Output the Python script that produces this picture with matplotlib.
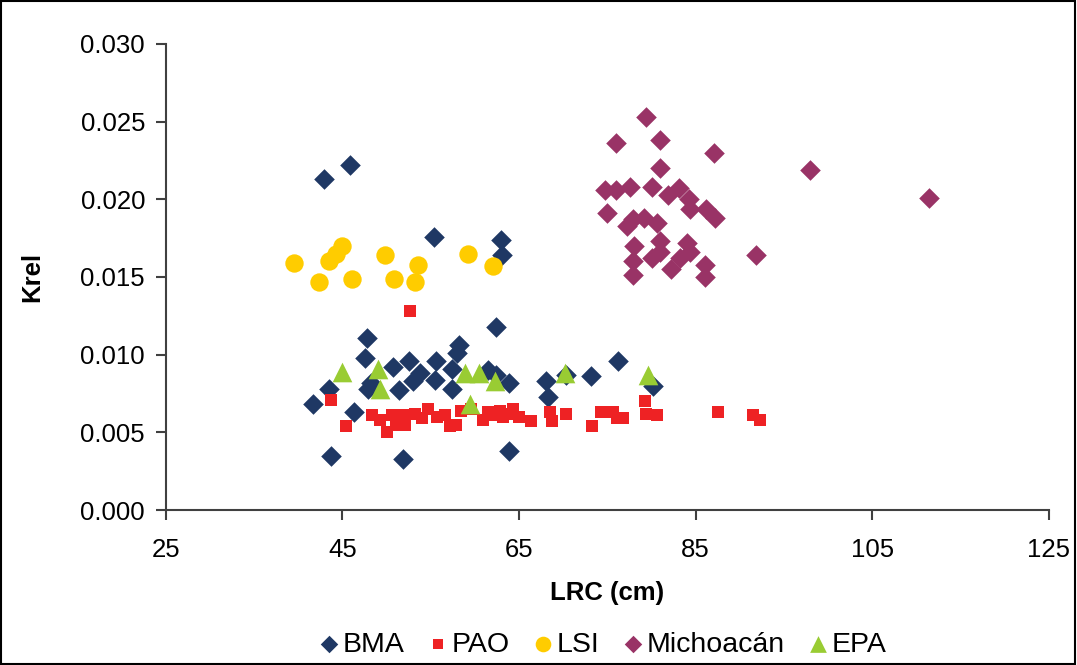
import matplotlib
matplotlib.use("Agg")
import matplotlib.pyplot as plt
from matplotlib.patches import Rectangle

plt.rcParams['font.family'] = ['Liberation Sans', 'DejaVu Sans']

# data
bma_x = [42.9, 45.9, 55.4, 62.9, 63.1, 62.4, 47.8, 47.5, 43.5, 41.7, 46.3, 43.7,
         51.8, 47.9, 48.2, 50.7, 52.5, 53.8, 53.0, 51.4, 55.6, 58.2, 58.0, 57.4,
         55.5, 57.4, 61.5, 62.4, 63.8, 68.1, 68.3, 63.9, 70.3, 73.1, 76.2, 80.2]
bma_y = [0.0213, 0.0222, 0.0176, 0.0174, 0.0164, 0.0118, 0.0111, 0.0098, 0.0078,
         0.0068, 0.0063, 0.0035, 0.0033, 0.0078, 0.0082, 0.0092, 0.0096, 0.0088,
         0.0083, 0.0077, 0.0096, 0.0106, 0.0101, 0.0091, 0.0084, 0.0078, 0.0090,
         0.0087, 0.0082, 0.0083, 0.0073, 0.0038, 0.0087, 0.0086, 0.0096, 0.0080]

pao_x = [43.7, 45.4, 48.3, 49.3, 50.0, 50.6, 51.1, 51.8, 52.1, 52.7, 53.2, 54.0,
         54.7, 55.7, 56.6, 57.2, 57.9, 58.4, 59.6, 60.9, 61.5, 62.3, 62.8, 63.2,
         63.8, 64.3, 65.0, 66.3, 68.5, 68.7, 70.3, 73.3, 74.3, 75.6, 76.1, 76.8,
         79.2, 79.4, 80.6, 87.5, 91.5, 92.3]
pao_y = [0.0071, 0.0054, 0.0061, 0.0058, 0.0050, 0.0061, 0.0055, 0.0061, 0.0055,
         0.0128, 0.0062, 0.0059, 0.0065, 0.0060, 0.0061, 0.0054, 0.0055, 0.0064,
         0.0065, 0.0058, 0.0063, 0.0061, 0.0064, 0.0060, 0.0062, 0.0065, 0.0060,
         0.0057, 0.0063, 0.0057, 0.0062, 0.0054, 0.0063, 0.0063, 0.0059, 0.0059,
         0.0070, 0.0062, 0.0061, 0.0063, 0.0061, 0.0058]

lsi_x = [39.5, 42.3, 43.5, 44.3, 44.9, 46.1, 49.8, 50.8, 53.2, 53.6, 59.2, 62.0]
lsi_y = [0.0159, 0.0147, 0.0160, 0.0165, 0.0170, 0.0149, 0.0164, 0.0149, 0.0147,
         0.0158, 0.0165, 0.0157]

mich_x = [79.4, 76.0, 81.0, 87.1, 81.0, 74.7, 76.0, 77.5, 80.0, 81.9, 83.1, 84.2,
          84.3, 86.2, 87.2, 74.9, 77.2, 77.9, 79.1, 80.6, 78.0, 80.9, 80.9, 84.0,
          84.3, 80.0, 77.9, 82.2, 83.2, 77.9, 86.0, 86.0, 97.9, 111.4, 91.8]
mich_y = [0.0253, 0.0236, 0.0238, 0.0230, 0.0220, 0.0206, 0.0206, 0.0208, 0.0208,
          0.0203, 0.0207, 0.0200, 0.0194, 0.0194, 0.0188, 0.0191, 0.0183, 0.0187,
          0.0188, 0.0185, 0.0170, 0.0173, 0.0166, 0.0172, 0.0166, 0.0162, 0.0160,
          0.0155, 0.0162, 0.0151, 0.0158, 0.0150, 0.0219, 0.0201, 0.0164]

epa_x = [44.9, 49.0, 49.3, 58.9, 60.5, 62.3, 59.4, 70.2, 79.6]
epa_y = [0.0089, 0.0091, 0.0078, 0.0088, 0.0088, 0.0083, 0.0068, 0.0088, 0.0087]

x_ticks = [25, 45, 65, 85, 105, 125]
y_ticks = [0.000, 0.005, 0.010, 0.015, 0.020, 0.025, 0.030]

fig = plt.figure(figsize=(10.77, 6.65), dpi=100)
ax = fig.add_axes([0.154, 0.233, 0.820, 0.701])

ax.scatter(bma_x, bma_y, marker='D', s=110, color='#1F3864', label='BMA', zorder=3, linewidths=0)
ax.scatter(pao_x, pao_y, marker='s', s=72, color='#EE2224', label='PAO', zorder=3, linewidths=0)
ax.scatter(lsi_x, lsi_y, marker='o', s=175, color='#FFCC00', label='LSI', zorder=3, linewidths=0)
ax.scatter(mich_x, mich_y, marker='D', s=110, color='#993366', label='Michoacán', zorder=3, linewidths=0)
ax.scatter(epa_x, epa_y, marker='^', s=200, color='#99CC33', label='EPA', zorder=4, linewidths=0)

ax.set_xlim(25, 125)
ax.set_ylim(0, 0.030)
ax.set_xticks(x_ticks)
ax.set_yticks(y_ticks)
ax.set_yticklabels([f'{v:.3f}' for v in y_ticks])
ax.tick_params(axis='both', labelsize=18.5, direction='out', length=7, width=1.5,
               color='#404040')
ax.tick_params(axis='x', pad=13)
ax.tick_params(axis='y', pad=8)

for side in ['top', 'right']:
    ax.spines[side].set_visible(False)
for side in ['left', 'bottom']:
    ax.spines[side].set_color('#404040')
    ax.spines[side].set_linewidth(1.5)

ax.set_xlabel('LRC (cm)', fontsize=18.5, fontweight='bold', labelpad=14)
ax.set_ylabel('Krel', fontsize=18.5, fontweight='bold', labelpad=26)

ax.legend(loc='upper center', bbox_to_anchor=(0.494, -0.237), ncol=5, frameon=False,
          fontsize=20.5, handlelength=0.8, handletextpad=0.1, columnspacing=0.75,
          markerscale=0.85, borderaxespad=0)

fig.patches.append(Rectangle((0.001, 0.001), 0.997, 0.997, transform=fig.transFigure,
                             fill=False, edgecolor='black', linewidth=1.5))

fig.savefig('out.png', dpi=100)
